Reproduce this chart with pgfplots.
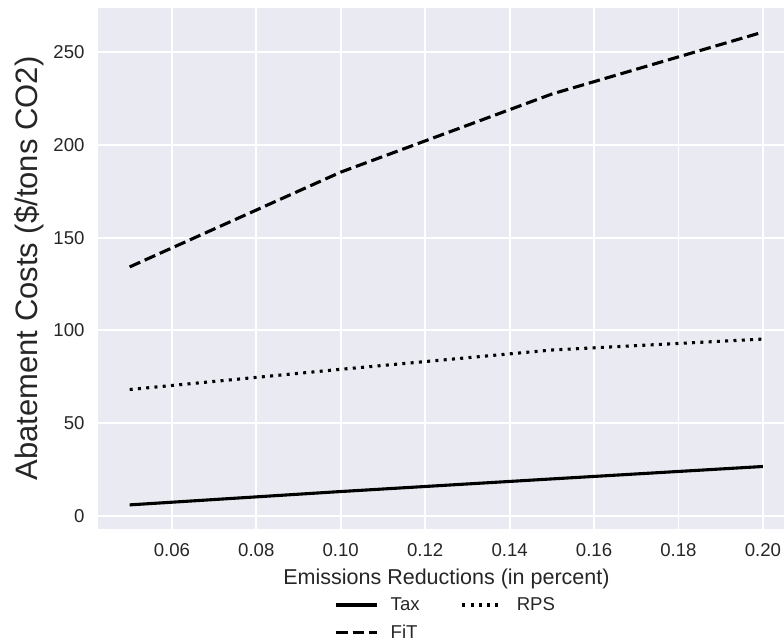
\documentclass[border=0pt]{standalone}
\usepackage{pgfplots}
\pgfplotsset{compat=1.18}
\usepackage{fontspec}
\setmainfont{Liberation Sans}
\definecolor{bg}{HTML}{EAEAF2}
\definecolor{tk}{HTML}{262626}
\begin{document}
\begin{tikzpicture}[x=1pt,y=1pt]
\path[use as bounding box] (-98,-115) rectangle (686,529);
\begin{axis}[
  at={(0pt,0pt)}, anchor=south west,
  scale only axis, width=686pt, height=521pt,
  xmin=0.0425, xmax=0.205, ymin=-7.1, ymax=273.8,
  axis background/.style={fill=bg},
  axis line style={draw=none},
  grid=major, major grid style={white, line width=1.8pt},
  tick style={draw=none},
  xtick={0.06,0.08,0.10,0.12,0.14,0.16,0.18,0.20},
  xticklabels={0.06,0.08,0.10,0.12,0.14,0.16,0.18,0.20},
  ytick={0,50,100,150,200,250},
  /pgf/number format/assume math mode=true,
  ticklabel style={font=\fontsize{18.6}{20}\selectfont, text=tk},
  xticklabel style={yshift=-11pt},
  yticklabel style={xshift=-10pt},
  xlabel={Emissions Reductions (in percent)},
  ylabel={Abatement Costs (\$/tons CO2)},
  xlabel style={font=\fontsize{21.5}{24}\selectfont, text=tk, at={(axis description cs:0.508,-0.1056)}, anchor=base},
  ylabel style={font=\fontsize{31}{34}\selectfont, text=tk, at={(axis description cs:-0.0889,0.5)}, anchor=base},
  legend style={at={(axis description cs:0.507,-0.124)}, anchor=north, draw=none, fill=none,
    font=\fontsize{18.6}{20}\selectfont, text=tk, row sep=9pt,
    /tikz/every even column/.append style={column sep=39pt}},
  legend columns=2,
  legend image code/.code={\draw[#1] (0pt,0pt) -- (41pt,0pt);},
  legend cell align=left,
]
\addplot[black, line width=3.1pt] coordinates {(0.05,5.9)(0.10,13.1)(0.15,19.9)(0.20,26.6)};
\addlegendentry{\hspace{10pt}Tax}
\addplot[black, line width=3.1pt, dash pattern=on 3pt off 5.3pt] coordinates {(0.05,68.1)(0.10,79.0)(0.15,89.4)(0.20,95.3)};
\addlegendentry{\hspace{10pt}RPS}
\addplot[black, line width=3.1pt, dash pattern=on 11.5pt off 5pt] coordinates {(0.05,134.2)(0.10,185.3)(0.15,227.4)(0.20,260.8)};
\addlegendentry{\hspace{10pt}FiT}
\end{axis}
\end{tikzpicture}
\end{document}
